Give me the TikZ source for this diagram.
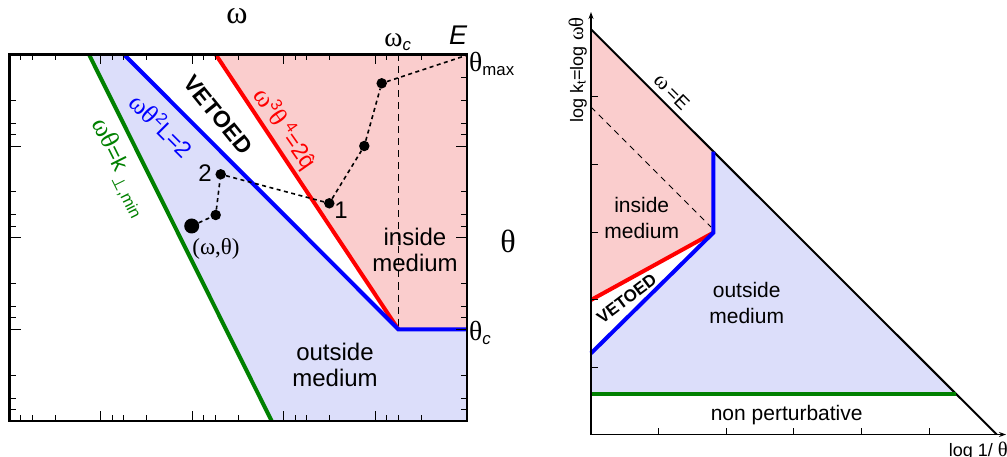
\documentclass[tikz,border=0pt]{standalone}
\usepackage{fontspec}
\setmainfont{Liberation Sans}
\newfontfamily\gr[Scale=1.15]{Liberation Serif}
\newfontfamily\grp{Liberation Serif}
\newfontfamily\dv{DejaVu Sans}
\usetikzlibrary{arrows.meta}
\definecolor{pinkfill}{RGB}{250,205,205}
\definecolor{lavfill}{RGB}{220,222,250}
\definecolor{lgreen}{RGB}{0,128,0}
\newcommand\fs[1]{\fontsize{#1}{#1}\selectfont}
\newcommand\sps[1]{\textsuperscript{#1}}
\newcommand\sbs[1]{\textsubscript{#1}}
\newcommand\lsub[1]{\raisebox{-0.3em}{\fontsize{16.5}{16.5}\selectfont #1}}
\tikzset{
  tickline/.style={line width=1pt},
  frameline/.style={line width=2.5pt},
  curve/.style={line width=4pt},
  dotline/.style={line width=1.6pt, dash pattern=on 4pt off 3.5pt},
  dashline/.style={line width=1.1pt, dash pattern=on 7pt off 5pt},
  dot/.style={circle, fill=black, inner sep=0pt, minimum size=10.5pt},
  bigdot/.style={circle, fill=black, inner sep=0pt, minimum size=15pt},
  lbl/.style={font=\fs{24}, inner sep=0pt},
  rlbl/.style={font=\fs{21}, inner sep=0pt},
  ax/.style={line width=1.6pt, -{Stealth[length=7pt,width=5pt]}},
}
\begin{document}
\begin{tikzpicture}[x=1pt,y=-1pt]
\useasboundingbox (0,0) rectangle (1007,457);

% ---------------- left panel ----------------
\fill[pinkfill] (215.7,54.5) -- (467,54.5) -- (467,329.3) -- (398.3,329.3) -- cycle;
\fill[lavfill] (89,54.5) -- (124,54.5) -- (398.3,329.3) -- (467,329.3) -- (467,421) -- (271.7,421) -- cycle;

\draw[dashline] (398.3,54.5) -- (398.3,329.3);
\draw[curve, lgreen] (89,54.5) -- (271.7,421);
\draw[curve, red] (215.7,54.5) -- (398.3,329.3);
\draw[curve, blue, line join=miter] (124,54.5) -- (398.3,329.3) -- (467,329.3);

% ticks
\foreach \m in {9.5,100.95,192.4,283.85,375.3} {
  \foreach \o in {11.4,23,46} {
    \draw[tickline] (\m+\o,54.5) -- ++(0,6);
    \draw[tickline] (\m+\o,421) -- ++(0,-6);
  }
}
\foreach \m in {100.95,192.4,283.85,375.3} {
  \draw[tickline] (\m,54.5) -- ++(0,10);
  \draw[tickline] (\m,421) -- ++(0,-10);
}
\foreach \m in {146.3,237.7,329.3,421} {
  \foreach \o in {11.5,23,46} {
    \draw[tickline] (9.5,\m-\o) -- ++(6,0);
    \draw[tickline] (467,\m-\o) -- ++(-6,0);
  }
}
\foreach \m in {146.3,237.7,329.3} {
  \draw[tickline] (9.5,\m) -- ++(11,0);
  \draw[tickline] (467,\m) -- ++(-11,0);
}
\draw[tickline] (467,77.7) -- ++(-6,0);

\draw[frameline] (9.5,54.5) rectangle (467,421);

% path of emissions
\node[bigdot] (p0) at (191.7,226) {};
\node[dot] (pa) at (215.7,215) {};
\node[dot] (p2) at (220.7,174.3) {};
\node[dot] (p1) at (329.3,203.3) {};
\node[dot] (pb) at (364.3,146) {};
\node[dot] (pc) at (381.7,83.3) {};
\coordinate (pe) at (466,55.5);
\draw[dotline] (p0) -- (pa) -- (p2) -- (p1) -- (pb) -- (pc) -- (pe);

\node[lbl] (l2) at (205,173) {2};
\node[lbl] (l1) at (341,210) {1};
\node[lbl, font=\fs{23}\grp] (lwt) at (216,249) {(ω,θ)};

% axis labels
\node[lbl, font=\fs{28}\gr] (lw) at (237,16) {ω};
\node[lbl] (lwc) at (398,42) {{\gr ω}\sbs{\itshape c}};
\node[lbl, font=\fs{27}\itshape] (lE) at (458,35) {E};
\node[lbl, anchor=west] (ltm) at (469,64) {{\gr θ}\sbs{max}};
\node[lbl, font=\fs{28}\gr] (lt) at (508,241) {θ};
\node[lbl, anchor=west] (ltc) at (469,333) {{\gr θ}\sbs{\itshape c}};

\node[lbl, align=center, font=\fontsize{24}{26.5}\selectfont] (lin) at (415,250) {inside\\medium};
\node[lbl, align=center, font=\fontsize{24}{26.5}\selectfont] (lout) at (335,365) {outside\\medium};

% rotated labels
\node[lbl, font=\fs{23}\bfseries, rotate=-51] (lveto) at (218,115) {VETOED};
\node[lbl, blue, font=\fs{23}, rotate=-45] (lblue) at (162,125) {{\gr ωθ}\sps{2}L=2};
\node[lbl, red, font=\fs{23}, rotate=-55] (lred) at (285,129) {{\gr ω}\sps{3}{\gr θ}\,\sps{4}=2\^{q}};
\node[lbl, lgreen, font=\fs{23}, rotate=-63.5] (lgreen) at (119,168) {{\gr ωθ}=k\,\lsub{{\dv ⊥},min}};

% ---------------- right panel ----------------
\fill[pinkfill] (591,29.3) -- (713.3,151.6) -- (713.3,232.7) -- (591,300) -- cycle;
\fill[lavfill] (713.3,151.6) -- (956,394.3) -- (591,394.3) -- (591,353.3) -- (713.3,232.7) -- cycle;

\draw[dashline, line width=1pt, dash pattern=on 6pt off 5pt] (591,107) -- (711,227);
\draw[line width=2pt] (591,29.3) -- (996.7,434.5);
\draw[curve, red] (713.3,232.7) -- (591,300);
\draw[curve, blue, line join=miter] (713.3,151.6) -- (713.3,232.7) -- (591,353.3);
\draw[curve, lgreen] (591,394.3) -- (956,394.3);

\foreach \y in {96.7,164.4,232.1,299.8,367.5} { \draw[tickline] (591,\y) -- ++(7,0); }
\foreach \x in {658.3,726,793.7,861.4,929.1} { \draw[tickline] (\x,434.5) -- ++(0,-7); }

\coordinate (o) at (591,434.5);
\coordinate (ytop) at (591,12);
\coordinate (xend) at (1006,434.5);
\draw[ax] (o) -- (ytop);
\draw[ax] (o) -- (xend);

\node[rlbl, font=\fs{19}, rotate=-45] (lwE) at (671.7,92) {{\gr ω}\,=E};
\node[rlbl, align=center, font=\fontsize{21}{26}\selectfont] (rin) at (641.7,218) {inside\\medium};
\node[rlbl, align=center, font=\fontsize{21}{26}\selectfont] (rout) at (746.7,303) {outside\\medium};
\node[rlbl] (rnp) at (786.7,415) {non perturbative};
\node[rlbl, font=\fs{17}\bfseries, rotate=37] (rveto) at (626.7,298.5) {VETOED};
\node[rlbl, font=\fs{18}, rotate=90, anchor=base] (rylab) at (583,70) {log k\sbs{t}=log {\gr ωθ}};
\node[rlbl, font=\fs{18}, anchor=base east] (rxlab) at (1008,456) {log 1/ {\gr θ}};
\end{tikzpicture}
\end{document}
